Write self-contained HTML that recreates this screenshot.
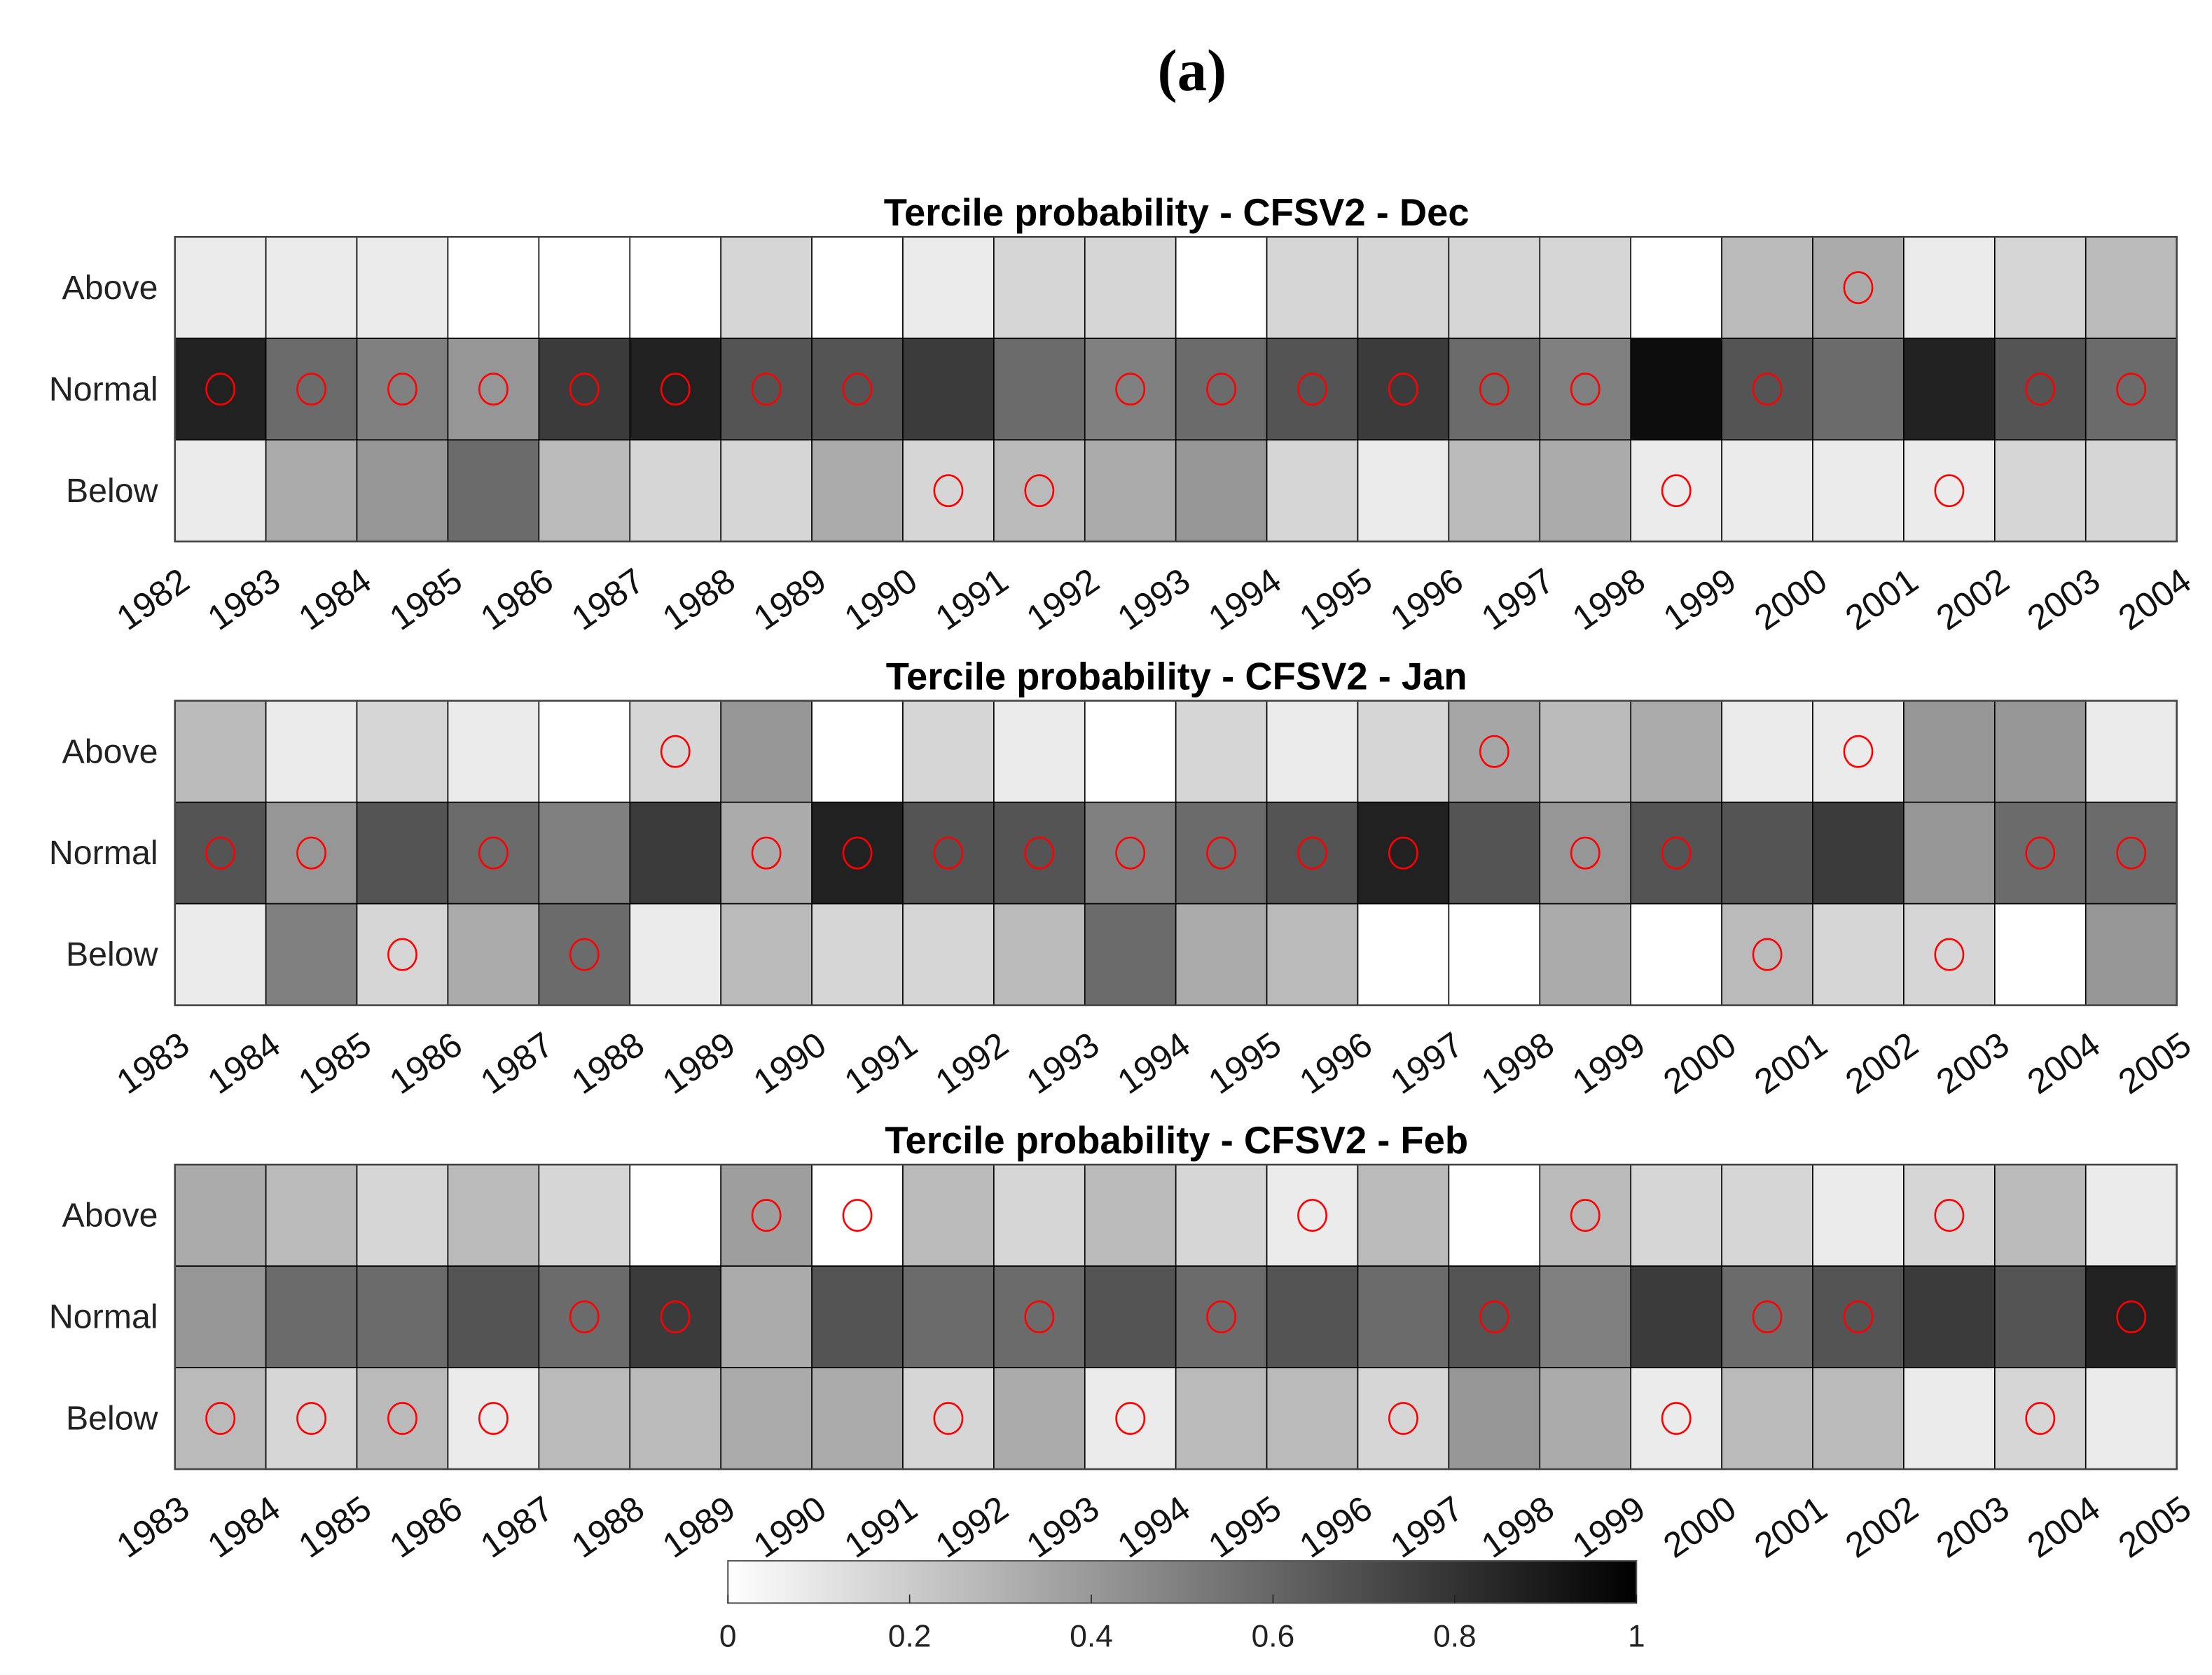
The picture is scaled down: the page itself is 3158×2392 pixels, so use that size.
<!DOCTYPE html>
<html><head><meta charset="utf-8"><style>
html,body{margin:0;padding:0;background:#fff;}
svg{display:block;}
text{font-family:"Liberation Sans",sans-serif;}
</style></head><body>
<svg id="chart" width="3158" height="2392" viewBox="0 0 1568 1188" preserveAspectRatio="none" xmlns="http://www.w3.org/2000/svg">
<defs><linearGradient id="cb" x1="0" x2="1" y1="0" y2="0"><stop offset="0" stop-color="#fff"/><stop offset="1" stop-color="#000"/></linearGradient></defs>
<text x="845" y="64" text-anchor="middle" font-size="42" font-weight="bold" style="font-family:'Liberation Serif',serif">(a)</text>
<g id="panels"></g>
<g>
<rect x="516" y="1107" width="644" height="30" fill="url(#cb)" stroke="#555" stroke-width="1"/>
<g id="cbticks"></g>
</g>
</svg>
<script>
const rowLabels = ["Above","Normal","Below"];
const decYears = ["1982","1983","1984","1985","1986","1987","1988","1989","1990","1991","1992","1993","1994","1995","1996","1997","1998","1999","2000","2001","2002","2003","2004"];
const janYears = ["1983","1984","1985","1986","1987","1988","1989","1990","1991","1992","1993","1994","1995","1996","1997","1998","1999","2000","2001","2002","2003","2004","2005"];
const febYears = janYears;
const decAbove = [.08,.08,.08,0,0,0,.16,0,.08,.16,.16,0,.16,.16,.16,.16,0,.27,.33,.08,.16,.27];
const decNormal = [.87,.58,.5,.41,.77,.87,.67,.67,.77,.58,.5,.58,.67,.77,.58,.5,.95,.67,.58,.87,.67,.58];
const decBelow = [.08,.33,.41,.58,.27,.16,.16,.33,.16,.27,.33,.41,.16,.08,.27,.33,.08,.08,.08,.08,.16,.16];
const janAbove = [.27,.08,.16,.08,0,.16,.41,0,.16,.08,0,.16,.08,.16,.35,.27,.33,.08,.08,.41,.41,.08];
const janNormal = [.67,.41,.67,.58,.5,.77,.33,.87,.67,.67,.5,.58,.67,.87,.67,.41,.67,.67,.77,.41,.58,.58];
const janBelow = [.08,.5,.16,.33,.58,.08,.27,.16,.16,.27,.58,.33,.27,0,0,.33,0,.27,.16,.16,0,.41];
const febAbove = [.33,.27,.16,.27,.16,0,.38,0,.27,.16,.27,.16,.08,.27,0,.27,.16,.16,.08,.16,.27,.08];
const febNormal = [.41,.58,.58,.67,.58,.77,.33,.67,.58,.58,.67,.58,.67,.58,.67,.5,.77,.58,.67,.77,.67,.87];
const febBelow = [.27,.16,.27,.08,.27,.27,.33,.33,.16,.33,.08,.27,.27,.16,.41,.33,.08,.27,.27,.08,.16,.08];
const decCircles = [[18],[0,1,2,3,4,5,6,7,10,11,12,13,14,15,17,20,21],[8,9,16,19]];
const janCircles = [[5,14,18],[0,1,3,6,7,8,9,10,11,12,13,15,16,20,21],[2,4,17,19]];
const febCircles = [[6,7,12,15,19],[4,5,9,11,14,17,18,21],[0,1,2,3,8,10,13,16,20]];
const panelTitles = ["Tercile probability - CFSV2 - Dec","Tercile probability - CFSV2 - Jan","Tercile probability - CFSV2 - Feb"];
const cbTicks = [0,0.2,0.4,0.6,0.8,1];
const cbTickLabels = ["0","0.2","0.4","0.6","0.8","1"];

const NS="http://www.w3.org/2000/svg";
const L=124,R=1543,ROWH=72,NC=22,CW=(R-L)/NC;
const panelTops=[168,497,826];
const xs=i=>L+i*CW;
const gray=v=>{const g=Math.round(255*(1-v));return `rgb(${g},${g},${g})`;};
function mk(tag,attrs,parent){const e=document.createElementNS(NS,tag);for(const k in attrs)e.setAttribute(k,attrs[k]);parent.appendChild(e);return e;}
const panels=document.getElementById('panels');
const panelData=[[decAbove,decNormal,decBelow],[janAbove,janNormal,janBelow],[febAbove,febNormal,febBelow]];
const panelCircles=[decCircles,janCircles,febCircles];
const panelYears=[decYears,janYears,febYears];
const panelNames=['dec','jan','feb'];
panelData.forEach((rows,p)=>{
  const top=panelTops[p];
  const g=mk('g',{},panels);
  
  
  const t=mk('text',{x:834,y:top-8,'text-anchor':'middle','font-size':27,'font-weight':'bold'},g);
  t.textContent=panelTitles[p];
  
  
  rows.forEach((vals,r)=>{
    vals.forEach((v,c)=>{
      const rc=mk('rect',{x:xs(c),y:top+r*ROWH,width:CW,height:ROWH,fill:gray(v),stroke:'#000','stroke-width':0.8},g);
      
      
    });
    const lb=mk('text',{x:112,y:top+r*ROWH+ROWH/2+8,'text-anchor':'end','font-size':24,fill:'#222'},g);
    lb.textContent=rowLabels[r];
    
    
    panelCircles[p][r].forEach(c=>{
      const ci=mk('ellipse',{cx:xs(c)+CW/2,cy:top+r*ROWH+ROWH/2,rx:10,ry:11,fill:'none',stroke:'#f00','stroke-width':1.3},g);
      
      
    });
  });
  const fr=mk('rect',{x:L,y:top,width:R-L,height:3*ROWH,fill:'none',stroke:'#444','stroke-width':1.3},g);
  
  
  panelYears[p].forEach((yr,i)=>{
    const x=xs(i)+12,y=top+3*ROWH+32;
    const tx=mk('text',{transform:`translate(${x},${y}) rotate(-35)`,'text-anchor':'end','font-size':25,fill:'#111'},g);
    tx.textContent=yr;
    
    
  });
});
const cbg=document.getElementById('cbticks');
cbTicks.forEach((v,i)=>{
  const x=516+v*644;
  mk('line',{x1:x,x2:x,y1:1137,y2:1131,stroke:'#222','stroke-width':0.8},cbg);
  const t=mk('text',{x:x,y:1168,'text-anchor':'middle','font-size':22,fill:'#222'},cbg);
  t.textContent=cbTickLabels[i];
  
  
});
</script>
</body></html>
